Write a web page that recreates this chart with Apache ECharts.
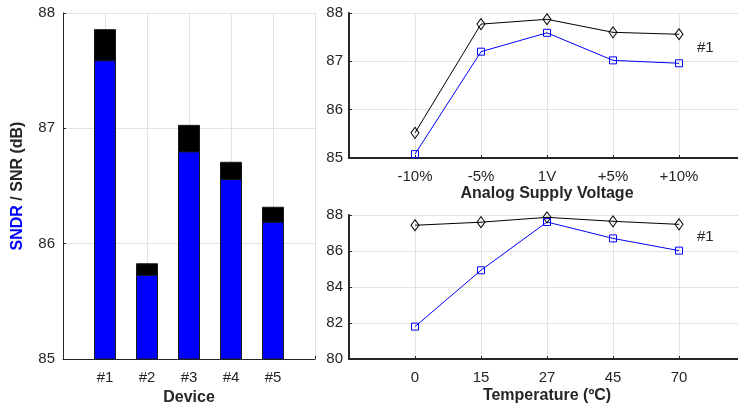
<!DOCTYPE html>
<html>
<head>
<meta charset="utf-8">
<script src="https://cdn.jsdelivr.net/npm/echarts@6/dist/echarts.min.js"></script>
<style>html,body{margin:0;padding:0;background:#fff}#c{width:738px;height:409px}</style>
</head>
<body>
<div id="c"></div>
<script>
const devices = ['#1', '#2', '#3', '#4', '#5'];
const snrDevice = [87.86, 85.83, 87.03, 86.71, 86.32];
const sndrDevice = [87.59, 85.73, 86.80, 86.56, 86.19];

const voltageLabels = ['-10%', '-5%', '1V', '+5%', '+10%'];
const snrVoltage = [85.52, 87.77, 87.87, 87.60, 87.56];
const sndrVoltage = [85.08, 87.20, 87.59, 87.02, 86.96];

const tempLabels = ['0', '15', '27', '45', '70'];
const snrTemp = [87.43, 87.60, 87.87, 87.65, 87.48];
const sndrTemp = [81.80, 84.93, 87.61, 86.70, 86.02];

const FONT = 'Liberation Sans, Arial, Helvetica, sans-serif';
const TXT = '#262626';
const GRIDC = '#e3e3e3';
const BLUE = '#0000ff';

function pairs(vals) { return vals.map((v, i) => [i + 1, v]); }

function xAxis(grid, labels, name, lineW, gap) {
  return {
    type: 'value', gridIndex: grid, min: 0, max: 6, interval: 1,
    name: name, nameLocation: 'middle', nameGap: gap,
    nameTextStyle: { fontFamily: FONT, fontSize: 16, fontWeight: 'bold', color: TXT },
    axisLine: { show: true, onZero: false, lineStyle: { color: TXT, width: lineW } },
    axisTick: { show: true, inside: true, length: 3, lineStyle: { color: TXT } },
    axisLabel: { margin: 11, fontFamily: FONT, fontSize: 15, color: TXT,
      formatter: v => labels[v - 1] || '' },
    splitLine: { show: true, lineStyle: { color: GRIDC, width: 1 } }
  };
}
function yAxis(grid, min, max, interval, lineW, margin) {
  return {
    type: 'value', gridIndex: grid, min: min, max: max, interval: interval,
    axisLine: { show: true, onZero: false, lineStyle: { color: TXT, width: lineW } },
    axisTick: { show: true, inside: true, length: 3, lineStyle: { color: TXT } },
    axisLabel: { margin: margin, fontFamily: FONT, fontSize: 15, color: TXT },
    splitLine: { show: true, lineStyle: { color: GRIDC, width: 1 } }
  };
}
function lineSeries(ax, vals, color, symbol, size) {
  return {
    type: 'line', xAxisIndex: ax, yAxisIndex: ax, data: pairs(vals),
    symbol: symbol, symbolSize: size, showAllSymbol: true,
    lineStyle: { color: color, width: 1 },
    itemStyle: { color: 'rgba(255,255,255,0)', borderColor: color, borderWidth: 1 },
    emphasis: { disabled: true }, animation: false, z: 3
  };
}

const chart = echarts.init(document.getElementById('c'), null, { renderer: 'canvas' });
const yL = yAxis(0, 85, 88, 1, 1, 8);
yL.name = '{b|SNDR} / SNR (dB)';
yL.nameLocation = 'middle';
yL.nameGap = 37;
yL.nameRotate = 90;
yL.nameTextStyle = { fontFamily: FONT, fontSize: 16, fontWeight: 'bold', color: TXT,
  rich: { b: { fontFamily: FONT, fontSize: 16, fontWeight: 'bold', color: BLUE } } };

chart.setOption({
  animation: false,
  grid: [
    { left: 63, top: 13, width: 252, height: 346, outerBoundsMode: 'none', containLabel: false },
    { left: 349, top: 13, width: 396, height: 145, outerBoundsMode: 'none', containLabel: false },
    { left: 349, top: 215, width: 396, height: 144, outerBoundsMode: 'none', containLabel: false }
  ],
  xAxis: [
    xAxis(0, devices, 'Device', 1, 29),
    xAxis(1, voltageLabels, 'Analog Supply Voltage', 2, 28),
    xAxis(2, tempLabels, 'Temperature (ºC)', 2, 29)
  ],
  yAxis: [
    yL,
    yAxis(1, 85, 88, 1, 2, 6),
    yAxis(2, 80, 88, 2, 2, 6)
  ],
  series: [
    { type: 'bar', xAxisIndex: 0, yAxisIndex: 0, data: pairs(snrDevice), barWidth: 22, barGap: '-100%',
      itemStyle: { color: '#000000', borderColor: '#1a1a1a', borderWidth: 1 }, emphasis: { disabled: true } },
    { type: 'bar', xAxisIndex: 0, yAxisIndex: 0, data: pairs(sndrDevice), barWidth: 22, barGap: '-100%',
      itemStyle: { color: BLUE, borderColor: '#1a1a1a', borderWidth: 1 }, emphasis: { disabled: true } },
    lineSeries(1, snrVoltage, '#000000', 'diamond', [8, 11]),
    lineSeries(1, sndrVoltage, BLUE, 'rect', 7),
    lineSeries(2, snrTemp, '#000000', 'diamond', [8, 11]),
    lineSeries(2, sndrTemp, BLUE, 'rect', 7)
  ],
  graphic: [
    { type: 'text', left: 697, top: 40, style: { text: '#1', font: '15px ' + FONT, fill: TXT } },
    { type: 'text', left: 697, top: 229, style: { text: '#1', font: '15px ' + FONT, fill: TXT } }
  ]
});
</script>
</body>
</html>
